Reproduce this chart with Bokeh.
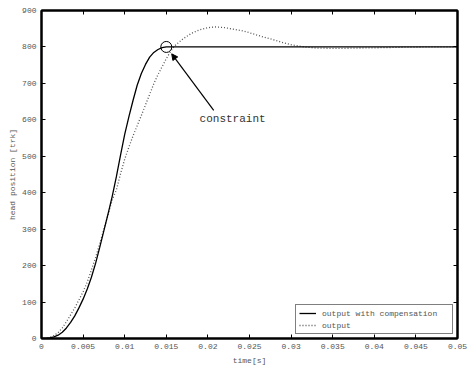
from bokeh.plotting import figure
from bokeh.models import Range1d, LinearAxis, FixedTicker, Label, Arrow, NormalHead, Legend, LegendItem
from bokeh.embed import file_html
from bokeh.resources import INLINE

# ---- data ----
t_comp = [0.0, 0.0005, 0.001, 0.0015, 0.002, 0.0025, 0.003, 0.0035, 0.004, 0.0045,
          0.005, 0.0055, 0.006, 0.0065, 0.007, 0.0075, 0.008, 0.0085, 0.009, 0.0095,
          0.010, 0.0105, 0.011, 0.0115, 0.012, 0.0125, 0.013, 0.0135, 0.014, 0.0145,
          0.015, 0.050]
v_comp = [0, 0.5, 2, 4.5, 9, 17, 29, 44, 62, 84,
          108, 136, 168, 206, 250, 296, 342, 390, 444, 503,
          560, 608, 653, 695, 727, 752, 772, 785, 793, 798,
          800, 800]

t_out = [0.0, 0.0005, 0.001, 0.0015, 0.002, 0.0025, 0.003, 0.0035, 0.004, 0.0045,
         0.005, 0.0055, 0.006, 0.0065, 0.007, 0.0075, 0.008, 0.0085, 0.009, 0.0095,
         0.010, 0.0105, 0.011, 0.0115, 0.012, 0.0125, 0.013, 0.0135, 0.014, 0.0145,
         0.015, 0.0155, 0.016, 0.017, 0.018, 0.019, 0.020, 0.021, 0.022, 0.023,
         0.024, 0.025, 0.026, 0.027, 0.028, 0.029, 0.030, 0.031, 0.032, 0.033,
         0.034, 0.035, 0.036, 0.037, 0.038, 0.040, 0.042, 0.044, 0.046, 0.048, 0.050]
v_out = [0, 1, 3, 8, 16, 29, 46, 65, 84, 106,
         128, 155, 188, 222, 260, 300, 340, 380, 408, 452,
         492, 525, 556, 584, 612, 641, 670, 699, 724, 746,
         768, 787, 803, 822, 837, 847, 853, 855, 853, 849,
         845, 839, 832, 825, 819, 812, 806, 802, 799, 797,
         796.5, 796, 796, 796.5, 797, 797.5, 798.5, 799.5, 800, 800, 800]

x_ticks = [0, 0.005, 0.01, 0.015, 0.02, 0.025, 0.03, 0.035, 0.04, 0.045, 0.05]
x_tick_labels = ["0", "0.005", "0.01", "0.015", "0.02", "0.025", "0.03",
                 "0.035", "0.04", "0.045", "0.05"]
y_ticks = [0, 100, 200, 300, 400, 500, 600, 700, 800, 900]
y_tick_labels = ["0", "100", "200", "300", "400", "500", "600", "700", "800", "900"]

constraint_t = [0.015]
constraint_v = [800]
arrow_from = (0.0207, 626)
arrow_to = (0.01565, 781)
note_pos = (0.0190, 603)

FONT = "Liberation Mono"
GRAY = "#555555"

p = figure(width=474, height=369, output_backend="svg", toolbar_location=None,
           x_range=Range1d(0, 0.05), y_range=Range1d(0, 900),
           min_border_left=41, min_border_right=17, min_border_top=10,
           min_border_bottom=31, background_fill_color="white",
           border_fill_color="white")
p.grid.visible = False
p.outline_line_color = "black"
p.outline_line_width = 2

def style_axis(ax, ticks, labels, size="8px"):
    ax.ticker = FixedTicker(ticks=ticks)
    ax.axis_line_color = "black"
    ax.axis_line_width = 2
    ax.major_tick_in = 4
    ax.major_tick_out = 0
    ax.major_tick_line_color = "black"
    ax.major_tick_line_width = 1
    ax.minor_tick_line_color = None
    ax.major_label_text_font = FONT
    ax.major_label_text_font_size = size
    ax.major_label_text_color = GRAY
    ax.axis_label_text_font = FONT
    ax.axis_label_text_font_size = "8px"
    ax.axis_label_text_font_style = "normal"
    ax.axis_label_text_color = GRAY
    ax.major_label_overrides = {k: v for k, v in zip(ticks, labels)}

xa = p.xaxis[0]
ya = p.yaxis[0]
style_axis(xa, x_ticks, x_tick_labels)
style_axis(ya, y_ticks, y_tick_labels)
xa.axis_label = "time[s]"
ya.axis_label = "head position [trk]"
xa.major_label_standoff = 5
ya.major_label_standoff = 5
xa.axis_label_standoff = 4
ya.axis_label_standoff = 2

top = LinearAxis()
right = LinearAxis()
style_axis(top, x_ticks, ["" for _ in x_ticks], size="1px")
style_axis(right, y_ticks, ["" for _ in y_ticks], size="1px")
top.major_label_standoff = 0
right.major_label_standoff = 0
p.add_layout(top, "above")
p.add_layout(right, "right")

r_out = p.line(t_out, v_out, line_color="#555555", line_width=1.3, line_dash="1 2")
r_comp = p.line(t_comp, v_comp, line_color="black", line_width=1.3)

p.scatter(constraint_t, constraint_v, marker="circle", size=11, fill_color=None,
          line_color="black", line_width=1)

p.add_layout(Arrow(end=NormalHead(size=6, fill_color="black", line_color="black"),
                   x_start=arrow_from[0], y_start=arrow_from[1],
                   x_end=arrow_to[0], y_end=arrow_to[1],
                   line_color="black", line_width=1.2))

p.add_layout(Label(x=note_pos[0], y=note_pos[1], text="constraint",
                   text_font=FONT, text_font_size="11px", text_color="#333333",
                   text_baseline="middle", text_align="left"))

p.add_layout(Label(x=0.025, y=900, y_offset=3, text="output",
                   text_font=FONT, text_font_size="8px", text_color=GRAY,
                   text_baseline="alphabetic", text_align="center"))

legend = Legend(items=[LegendItem(label="output with compensation", renderers=[r_comp]),
                       LegendItem(label="output", renderers=[r_out])],
                location="bottom_right", margin=4, padding=3, spacing=2,
                glyph_width=17, glyph_height=10, label_height=10, label_width=127,
                label_standoff=6, label_text_font=FONT, label_text_font_size="8px",
                label_text_color=GRAY, border_line_color="black", border_line_width=1.5,
                background_fill_color="white", background_fill_alpha=1)
p.add_layout(legend)

open("out.html", "w").write(file_html(p, INLINE))
